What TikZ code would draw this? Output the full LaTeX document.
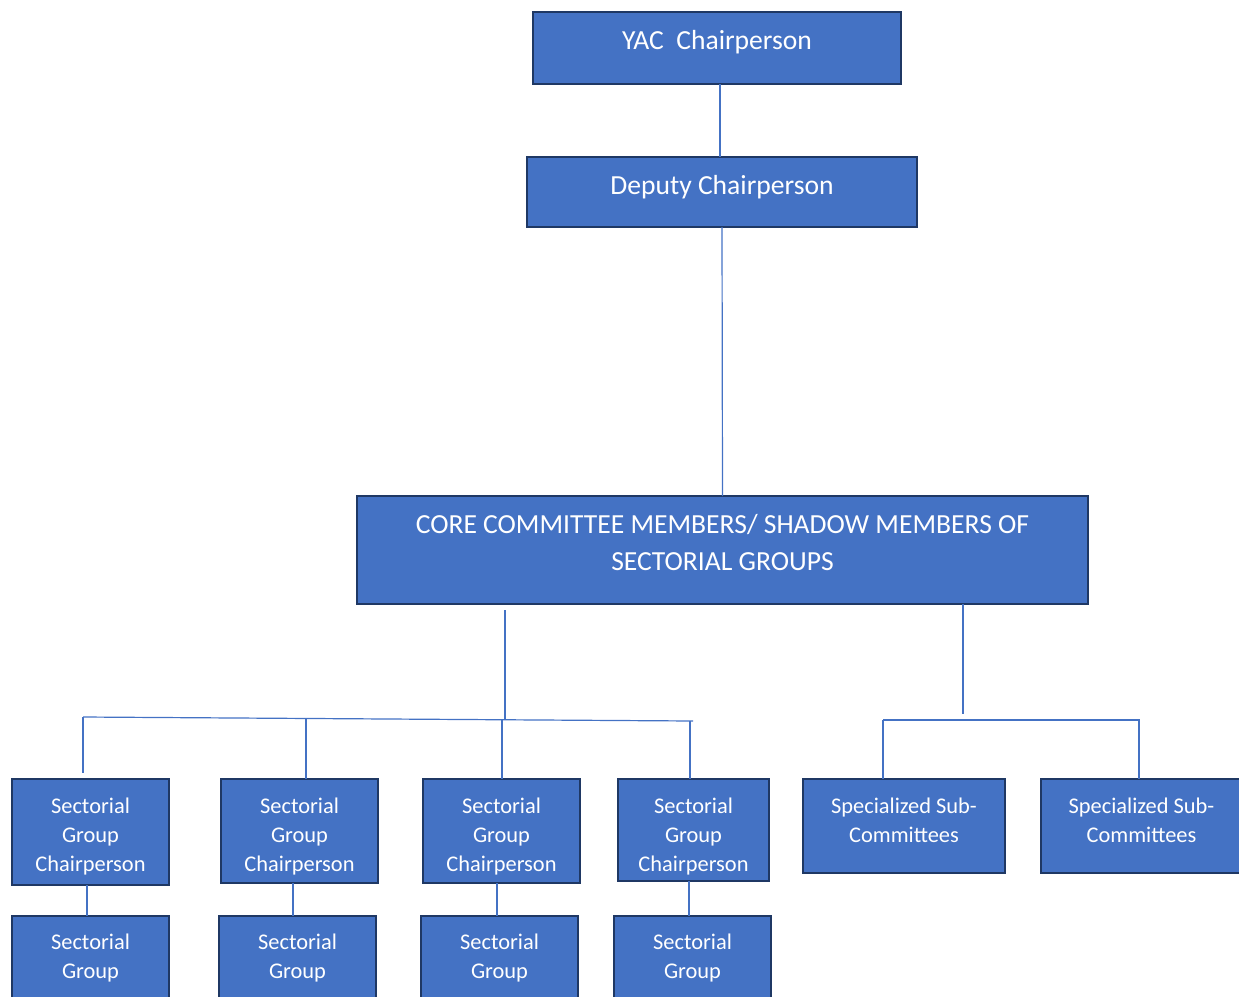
\documentclass[tikz,border=0pt]{standalone}
\usepackage{fontspec}
\setmainfont{Carlito}
\definecolor{boxfill}{HTML}{4472C4}
\definecolor{boxline}{HTML}{1F3864}
\definecolor{connc}{HTML}{4472C4}
\begin{document}
\begin{tikzpicture}[x=1pt,y=-1pt,
 box/.style={draw=boxline, line width=2.5pt, fill=boxfill, anchor=north west, inner sep=0pt, outer sep=0pt},
 bigtxt/.style={font=\fontsize{27.6}{37}\selectfont, text=white, align=center, anchor=base, inner sep=0pt},
 smalltxt/.style={font=\fontsize{22.4}{29.2}\selectfont, text=white, align=center, anchor=base, inner sep=0pt},
 conn/.style={draw=connc, line width=1.2pt}]
\useasboundingbox (0,0) rectangle (1239,996);
\clip (0,0) rectangle (1239,996);
% boxes
\node[box, minimum width=368pt, minimum height=72pt] (yac) at (533,12) {};
\node[box, minimum width=390pt, minimum height=70pt] (dep) at (527,157) {};
\node[box, minimum width=731pt, minimum height=108pt] (core) at (357,496) {};
\node[box, minimum width=157pt, minimum height=106pt] (sgc1) at (12,779) {};
\node[box, minimum width=157pt, minimum height=104pt] (sgc2) at (221,779) {};
\node[box, minimum width=157pt, minimum height=104pt] (sgc3) at (423,779) {};
\node[box, minimum width=151pt, minimum height=102pt] (sgc4) at (618,779) {};
\node[box, minimum width=202pt, minimum height=94pt] (ssc1) at (803,779) {};
\node[box, minimum width=201pt, minimum height=94pt] (ssc2) at (1041,779) {};
\node[box, minimum width=157pt, minimum height=100pt] (sg1) at (12,916) {};
\node[box, minimum width=157pt, minimum height=100pt] (sg2) at (219,916) {};
\node[box, minimum width=157pt, minimum height=100pt] (sg3) at (421,916) {};
\node[box, minimum width=157pt, minimum height=100pt] (sg4) at (614,916) {};
% texts (anchor base = baseline of last line)
\node[bigtxt] (yact) at (717,49.5) {YAC\ \ Chairperson};
\node[bigtxt] (dept) at (722,194) {Deputy Chairperson};
\node[bigtxt] (coret) at (722.5,570) {CORE COMMITTEE MEMBERS/ SHADOW MEMBERS OF\\SECTORIAL GROUPS};
\node[smalltxt] (sgc1t) at (90.5,871.4) {Sectorial\\Group\\Chairperson};
\node[smalltxt] (sgc2t) at (299.5,871.4) {Sectorial\\Group\\Chairperson};
\node[smalltxt] (sgc3t) at (501.5,871.4) {Sectorial\\Group\\Chairperson};
\node[smalltxt] (sgc4t) at (693.5,871.4) {Sectorial\\Group\\Chairperson};
\node[smalltxt] (ssc1t) at (904,842.2) {Specialized Sub-\\Committees};
\node[smalltxt] (ssc2t) at (1141.5,842.2) {Specialized Sub-\\Committees};
\node[smalltxt] (sg1t) at (90.5,978.2) {Sectorial\\Group};
\node[smalltxt] (sg2t) at (297.5,978.2) {Sectorial\\Group};
\node[smalltxt] (sg3t) at (499.5,978.2) {Sectorial\\Group};
\node[smalltxt] (sg4t) at (692.5,978.2) {Sectorial\\Group};
% junction coordinates
\coordinate (barL) at (83,717);
\coordinate (barR) at (693,721);
\coordinate (jL) at (505,719.8);
\coordinate (b2) at (306,718.5);
\coordinate (b3) at (502,719.7);
\coordinate (jR) at (963,714);
\coordinate (barSL) at (883,720);
\coordinate (barSR) at (1140,720);
% connectors
\draw[conn] ([xshift=3pt]yac.south) -- ([xshift=-2pt]dep.north);
\draw[conn] (dep.south) -- (core.north);
\draw[conn] ([xshift=-217.5pt,yshift=-6pt]core.south) -- (jL);
\draw[conn] (barL) -- (barR);
\draw[conn] (barL) -- ([xshift=-7.5pt,yshift=6pt]sgc1.north);
\draw[conn] (b2) -- ([xshift=6.5pt]sgc2.north);
\draw[conn] (b3) -- ([xshift=0.5pt]sgc3.north);
\draw[conn] ([xshift=-3pt]barR) -- ([xshift=-3.5pt]sgc4.north);
\draw[conn] ([xshift=240.5pt]core.south) -- (jR);
\draw[conn] (barSL) -- (barSR);
\draw[conn] (barSL) -- ([xshift=-21pt]ssc1.north);
\draw[conn] ([xshift=-1pt]barSR) -- ([xshift=-2.5pt]ssc2.north);
\draw[conn] ([xshift=-3.5pt]sgc1.south) -- ([xshift=-3.5pt]sg1.north);
\draw[conn] ([xshift=-6.5pt]sgc2.south) -- ([xshift=-4.5pt]sg2.north);
\draw[conn] ([xshift=-4.5pt]sgc3.south) -- ([xshift=-2.5pt]sg3.north);
\draw[conn] ([xshift=-4.5pt]sgc4.south) -- ([xshift=-3.5pt]sg4.north);
\end{tikzpicture}
\end{document}
